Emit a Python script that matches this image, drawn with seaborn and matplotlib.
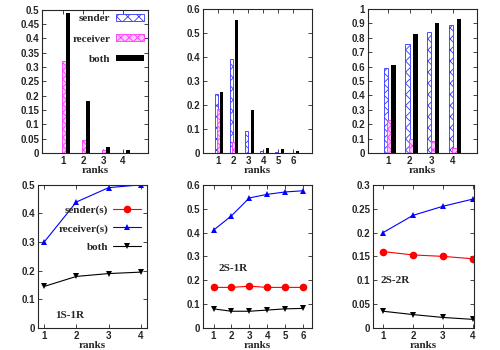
import matplotlib
matplotlib.use("Agg")
import matplotlib.pyplot as plt
import numpy as np
import pandas as pd
import seaborn as sns

# top row: bar panels (fraction per rank)
ranks_a = [1, 2, 3, 4]
ranks_b = [1, 2, 3, 4, 5, 6]

bar_a_sender = [0.0, 0.0, 0.0, 0.0]
bar_a_receiver = [0.32, 0.045, 0.01, 0.0]
bar_a_both = [0.49, 0.18, 0.02, 0.01]

bar_b_sender = [0.245, 0.392, 0.09, 0.01, 0.005, 0.0]
bar_b_receiver = [0.185, 0.045, 0.0, 0.0, 0.0, 0.0]
bar_b_both = [0.255, 0.555, 0.18, 0.02, 0.015, 0.008]

bar_c_sender = [0.59, 0.76, 0.84, 0.89]
bar_c_receiver = [0.23, 0.10, 0.085, 0.035]
bar_c_both = [0.61, 0.83, 0.90, 0.93]

# bottom row: line panels
line_a_receiver = [0.30, 0.44, 0.49, 0.50]
line_a_both = [0.145, 0.18, 0.19, 0.195]

line_b_sender = [0.17, 0.17, 0.175, 0.17, 0.17, 0.17]
line_b_receiver = [0.41, 0.47, 0.545, 0.56, 0.57, 0.575]
line_b_both = [0.08, 0.07, 0.07, 0.075, 0.08, 0.082]

line_c_sender = [0.16, 0.153, 0.15, 0.145]
line_c_receiver = [0.20, 0.236, 0.255, 0.27]
line_c_both = [0.035, 0.028, 0.022, 0.018]

sns.set_style("ticks")
plt.rcParams['font.family'] = ['Liberation Sans', 'DejaVu Sans']
plt.rcParams['hatch.linewidth'] = 0.6

serif = dict(family='Liberation Serif', weight='bold', size=8)

fig = plt.figure(figsize=(5, 3.5), dpi=100)

def style_axis(ax, xlim, ylim, yticks, xticks):
    ax.set_xlim(*xlim)
    ax.set_ylim(*ylim)
    ax.set_yticks(yticks)
    ax.set_xticks(xticks)
    ax.set_yticklabels([('%g' % t) for t in yticks])
    ax.tick_params(direction='in', top=True, right=True, length=3, width=0.6,
                   labelsize=7, pad=2)
    for lbl in ax.get_xticklabels() + ax.get_yticklabels():
        lbl.set_fontweight('bold')
    for s in ax.spines.values():
        s.set_linewidth(0.8)
    ax.set_xlabel('ranks', fontdict=serif, labelpad=0)
    ax.set_ylabel('')


def bar_panel(rect, ranks, sender, receiver, both, xlim, ylim, yticks, legend=False):
    ax = fig.add_axes(rect)
    x = np.array(ranks, dtype=float)
    w = 0.2
    ax.bar(x - 0.1, sender, w, facecolor='white', edgecolor='#3333ff',
           hatch='xxx', linewidth=0.6, label='sender')
    ax.bar(x + 0.06, receiver, w, facecolor='#ffc8ff', edgecolor='#ff33ff',
           hatch='xxxx', linewidth=0.6, label='receiver')
    ax.bar(x + 0.26, both, w, color='black', linewidth=0, label='both')
    style_axis(ax, xlim, ylim, yticks, ranks)
    if legend:
        ax.legend(loc='upper right', frameon=False, markerfirst=False,
                  prop=serif, handlelength=2.5, handleheight=0.5,
                  labelspacing=1.0, borderaxespad=0.1, borderpad=0.3,
                  handletextpad=0.5)
    return ax


def line_panel(rect, ranks, sender, receiver, both, xlim, ylim, yticks, tag, tagpos, legend=False):
    ax = fig.add_axes(rect)
    rows = []
    if sender is not None:
        rows += [(r, v, 'sender(s)') for r, v in zip(ranks, sender)]
    rows += [(r, v, 'receiver(s)') for r, v in zip(ranks, receiver)]
    rows += [(r, v, 'both') for r, v in zip(ranks, both)]
    df = pd.DataFrame(rows, columns=['rank', 'value', 'series'])
    styles = {'sender(s)': ('#ff0000', 'o', 5.5), 'receiver(s)': ('#0000ff', '^', 5), 'both': ('black', 'v', 5)}
    for name in ['sender(s)', 'receiver(s)', 'both']:
        sub = df[df.series == name]
        c, m, ms = styles[name]
        if len(sub):
            sns.lineplot(data=sub, x='rank', y='value', ax=ax, color=c, marker=m,
                         markersize=ms, markeredgewidth=0, linewidth=0.8, label=name)
        elif legend:
            ax.plot([], [], color=c, marker=m, markersize=ms, markeredgewidth=0,
                    linewidth=0.8, label=name)
    style_axis(ax, xlim, ylim, yticks, ranks)
    ax.text(tagpos[0], tagpos[1], tag, fontdict=serif, va='center')
    if legend:
        h, l = ax.get_legend_handles_labels()
        order = [l.index(n) for n in ['sender(s)', 'receiver(s)', 'both']]
        ax.legend([h[i] for i in order], [l[i] for i in order],
                  loc='upper right', bbox_to_anchor=(1.0, 0.9), frameon=False,
                  markerfirst=False, prop=serif, handlelength=2.6,
                  labelspacing=0.8, handletextpad=0.4, borderaxespad=0.1)
    else:
        ax.get_legend().remove()
    return ax


bar_panel([0.084, 0.563, 0.212, 0.409], ranks_a, bar_a_sender, bar_a_receiver, bar_a_both,
          (-0.05, 5.25), (0, 0.5), np.arange(0, 0.501, 0.05), legend=True)
bar_panel([0.406, 0.563, 0.218, 0.411], ranks_b, bar_b_sender, bar_b_receiver, bar_b_both,
          (0.0, 7.25), (0, 0.6), np.arange(0, 0.601, 0.1))
bar_panel([0.736, 0.563, 0.218, 0.411], ranks_a, bar_c_sender, bar_c_receiver, bar_c_both,
          (0.08, 5.1), (0, 1.0), np.arange(0, 1.001, 0.1))

line_panel([0.076, 0.063, 0.218, 0.409], ranks_a, None, line_a_receiver, line_a_both,
           (0.81, 4.19), (0, 0.5), np.arange(0, 0.501, 0.1), '1S-1R', (1.33, 0.045), legend=True)
line_panel([0.406, 0.063, 0.218, 0.409], ranks_b, line_b_sender, line_b_receiver, line_b_both,
           (0.41, 6.5), (0, 0.6), np.arange(0, 0.601, 0.1), '2S-1R', (1.28, 0.25))
line_panel([0.746, 0.063, 0.202, 0.409], ranks_a, line_c_sender, line_c_receiver, line_c_both,
           (0.66, 4.04), (0, 0.3), np.arange(0, 0.301, 0.05), '2S-2R', (0.92, 0.1))

fig.savefig('out.png', dpi=100)
